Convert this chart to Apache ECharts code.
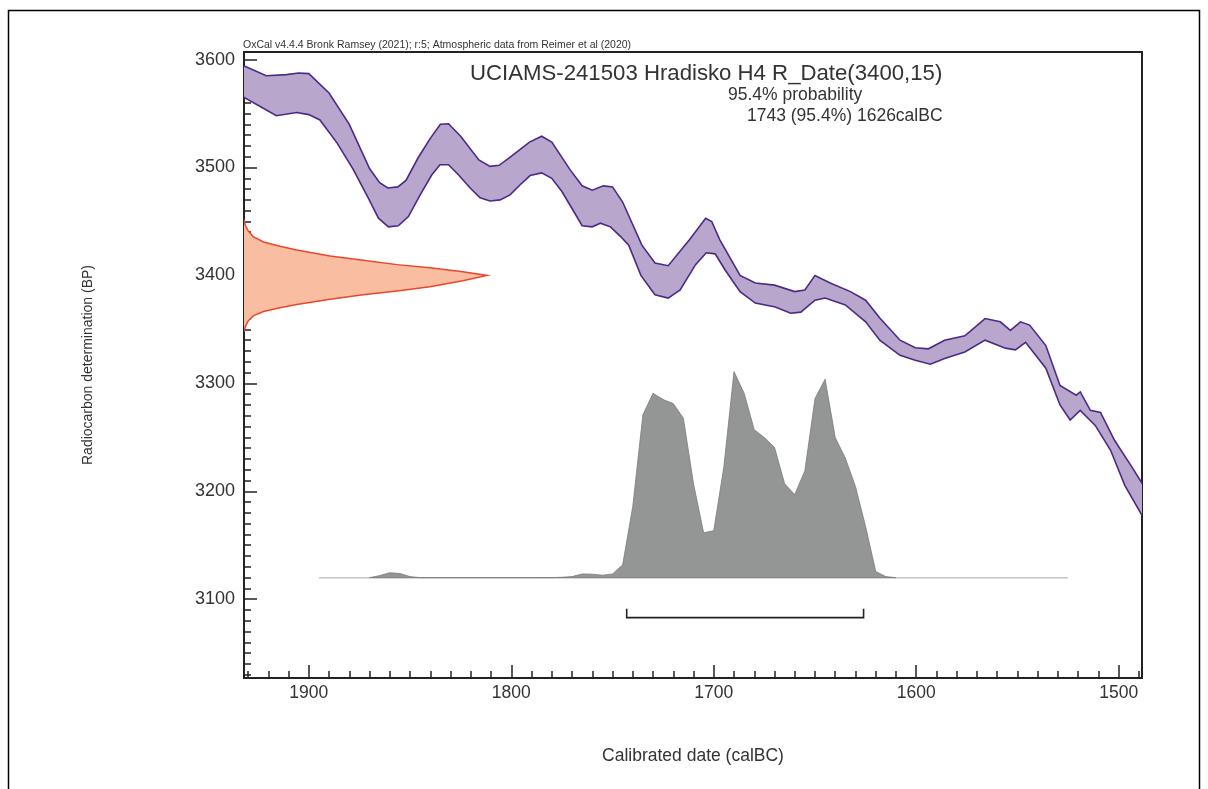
<!DOCTYPE html>
<html>
<head>
<meta charset="utf-8">
<script src="https://cdn.jsdelivr.net/npm/echarts@6/dist/echarts.min.js"></script>
<style>
  html, body { margin: 0; padding: 0; background: #ffffff; }
  #chart { width: 1208px; height: 789px; }
</style>
</head>
<body>
<div id="chart"></div>
<script>
// ---- Calibration curve (IntCal20 1-sigma envelope), calBC vs BP ----
const curveUpperYears = [1933, 1921, 1911, 1905, 1900, 1890, 1880, 1870, 1865, 1861, 1856, 1852, 1846, 1840, 1835, 1831, 1825, 1816, 1810.5, 1806, 1801, 1791, 1785, 1780, 1771, 1765, 1760, 1754.5, 1750, 1745, 1735.5, 1729, 1722.5, 1712, 1704, 1701, 1697, 1687, 1679.5, 1670, 1660, 1655, 1650, 1642.5, 1632.5, 1625, 1618, 1608, 1600.5, 1594, 1586, 1576, 1566, 1558.5, 1553.5, 1548.5, 1544, 1536, 1529, 1521, 1519, 1514, 1509, 1502, 1494, 1488];
const curveUpperBP = [3595, 3585, 3586, 3587.5, 3587, 3569, 3540, 3499, 3486, 3481, 3482, 3488, 3509, 3527, 3540, 3540.5, 3529, 3507, 3501, 3502, 3509, 3523.5, 3529, 3523.5, 3498, 3483, 3479, 3483, 3482, 3468, 3428, 3411.5, 3409, 3433, 3453, 3450, 3433, 3400, 3393, 3391, 3385, 3386.5, 3400, 3393, 3385, 3377, 3360.5, 3340, 3333, 3332, 3340, 3344, 3360, 3357, 3349, 3357, 3354, 3335, 3298, 3289, 3292, 3275, 3273, 3247, 3224, 3206];
const curveLowerYears = [1933, 1924, 1916, 1906, 1900, 1894.5, 1886, 1878, 1870.6, 1865.6, 1860.7, 1855.8, 1850.8, 1845, 1839.3, 1835.2, 1831, 1826, 1820.3, 1815.4, 1810.5, 1805.5, 1800.6, 1795.6, 1790.7, 1785, 1780, 1775, 1770, 1765, 1760, 1756, 1751, 1746, 1742, 1736, 1729, 1722.5, 1716.6, 1709, 1703.7, 1699.3, 1694.4, 1687, 1679.5, 1669.6, 1662, 1657, 1650, 1645, 1635, 1625, 1618, 1608, 1600.5, 1593, 1586, 1576, 1566, 1556, 1551, 1546, 1536, 1529, 1524, 1519, 1511.6, 1504, 1497, 1488];
const curveLowerBP = [3566, 3556.5, 3548, 3551, 3549, 3544, 3522.6, 3498, 3471.6, 3453, 3445, 3446, 3454.5, 3474.6, 3493, 3502.5, 3502.5, 3493, 3481, 3472, 3469, 3470, 3474.6, 3484, 3492.5, 3495, 3490, 3477.7, 3462, 3446, 3445, 3448.4, 3445, 3436, 3428, 3400, 3382, 3379, 3386.5, 3410, 3421, 3420, 3405, 3385, 3374.4, 3370.7, 3365, 3366, 3377, 3379, 3372.6, 3357, 3340, 3326, 3321.4, 3317.7, 3323, 3329, 3340, 3332.6, 3331, 3338, 3314, 3280, 3266, 3275, 3261, 3238, 3205.5, 3176];

// ---- Radiocarbon measurement R_Date(3400,15): relative density vs BP ----
const dateBP      = [3452, 3446, 3441, 3436, 3431, 3427, 3423.5, 3418, 3414, 3410, 3407, 3403.5, 3400, 3395, 3389.5, 3385.5, 3382, 3378, 3373, 3370, 3366.5, 3362.5, 3358, 3353, 3348];
const dateDensity = [0, 0.006, 0.018, 0.038, 0.08, 0.148, 0.217, 0.354, 0.49, 0.63, 0.765, 0.9, 1.0, 0.9, 0.765, 0.63, 0.49, 0.354, 0.217, 0.148, 0.08, 0.038, 0.018, 0.006, 0];

// ---- Calibrated probability distribution (relative, peak = 1) ----
const calYears = [1870, 1865, 1860, 1855, 1850, 1845, 1780, 1775, 1770, 1765, 1760, 1755, 1750, 1745, 1740, 1735, 1730, 1725, 1720, 1715, 1710, 1705, 1700, 1695, 1690, 1685, 1680, 1675, 1670, 1665, 1660, 1655, 1650, 1645, 1640, 1635, 1630, 1625, 1620, 1615, 1610];
const calProb  = [0, 0.01, 0.024, 0.02, 0.005, 0, 0, 0.002, 0.005, 0.018, 0.017, 0.012, 0.018, 0.062, 0.345, 0.79, 0.895, 0.864, 0.845, 0.774, 0.456, 0.218, 0.228, 0.539, 1.0, 0.895, 0.718, 0.68, 0.633, 0.456, 0.403, 0.519, 0.869, 0.963, 0.68, 0.58, 0.442, 0.248, 0.03, 0.005, 0];
const calSpan  = [1895, 1525];          // extent of the distribution baseline

// ---- 95.4% range (calBC) ----
const range954 = [1743, 1626];

// ---- Axis labels and text ----
const xAxisTitle = 'Calibrated date (calBC)';
const yAxisTitle = 'Radiocarbon determination (BP)';
const creditText = 'OxCal v4.4.4 Bronk Ramsey (2021); r:5; Atmospheric data from Reimer et al (2020)';
const sampleTitle = 'UCIAMS-241503 Hradisko H4 R_Date(3400,15)';
const probTitle = '95.4% probability';

const FONT = '"Liberation Sans", Arial, Helvetica, sans-serif';
const INK = '#222222';
const TXT = '#333333';

// visible window
const X_MIN = 1488.5, X_MAX = 1932;
const Y_MIN = 3027, Y_MAX = 3607;

function renderBand(params, api) {
  const upper = curveUpperYears.map((yr, i) => api.coord([yr, curveUpperBP[i]]));
  const lower = curveLowerYears.map((yr, i) => api.coord([yr, curveLowerBP[i]]));
  const poly = upper.concat(lower.slice().reverse());
  return {
    type: 'group',
    children: [
      { type: 'polygon', shape: { points: poly }, style: { fill: '#b9a6cd', stroke: null } },
      { type: 'polyline', shape: { points: upper }, style: { fill: null, stroke: '#4b2a87', lineWidth: 1.6 } },
      { type: 'polyline', shape: { points: lower }, style: { fill: null, stroke: '#4b2a87', lineWidth: 1.6 } }
    ]
  };
}

function renderDate(params, api) {
  const pts = dateBP.map((bp, i) => api.coord([dateDensity[i], bp]));
  return {
    type: 'group',
    children: [
      { type: 'polygon', shape: { points: pts }, style: { fill: '#f9bda2', stroke: null } },
      { type: 'polyline', shape: { points: pts }, style: { fill: null, stroke: '#e9472b', lineWidth: 1.5 } }
    ]
  };
}

function renderCal(params, api) {
  const base = [api.coord([calSpan[0], 0]), api.coord([calSpan[1], 0])];
  const pts = calYears.map((yr, i) => api.coord([yr, calProb[i]]));
  return {
    type: 'group',
    children: [
      { type: 'line', shape: { x1: base[0][0], y1: base[0][1], x2: base[1][0], y2: base[1][1] },
        style: { stroke: '#c6c6c6', lineWidth: 1.5 } },
      { type: 'polygon', shape: { points: pts }, style: { fill: '#949695', stroke: '#7a7c7b', lineWidth: 0.8 } }
    ]
  };
}

function renderRange(params, api) {
  const a = api.coord([range954[0], 0]);
  const b = api.coord([range954[1], 0]);
  const y = a[1] + 40, h = 9;
  return {
    type: 'polyline',
    shape: { points: [[a[0], y - h], [a[0], y], [b[0], y], [b[0], y - h]] },
    style: { fill: null, stroke: INK, lineWidth: 1.6 }
  };
}

const plainNumber = v => String(Math.round(v));

const chart = echarts.init(document.getElementById('chart'), null, { renderer: 'canvas' });

const tickLine = { color: INK, width: 1.5 };

chart.setOption({
  backgroundColor: '#ffffff',
  animation: false,
  textStyle: { fontFamily: FONT },
  title: [
    { text: creditText, left: 243, top: 40, padding: 0,
      textStyle: { fontSize: 10.5, fontWeight: 'normal', color: TXT, fontFamily: FONT } },
    { text: sampleTitle, left: 470, top: 63, padding: 0,
      textStyle: { fontSize: 22.2, fontWeight: 'normal', color: TXT, fontFamily: FONT } },
    { text: probTitle, left: 728, top: 86, padding: 0,
      textStyle: { fontSize: 17.5, fontWeight: 'normal', color: TXT, fontFamily: FONT } },
    { text: range954[0] + ' (95.4%) ' + range954[1] + 'calBC', left: 747, top: 107, padding: 0,
      textStyle: { fontSize: 17.5, fontWeight: 'normal', color: TXT, fontFamily: FONT } }
  ],
  graphic: [
    { type: 'rect', silent: true, shape: { x: 8.5, y: 10.5, width: 1191, height: 800 },
      style: { fill: null, stroke: '#000000', lineWidth: 1.5 }, z: 100 }
  ],
  grid: {
    left: 244, right: 66, top: 52, bottom: 111,
    containLabel: false, outerBoundsMode: 'none',
    show: true, borderColor: INK, borderWidth: 2, backgroundColor: 'transparent'
  },
  xAxis: [
    {
      type: 'value', inverse: true, min: X_MIN, max: X_MAX, position: 'bottom',
      splitNumber: 5, minInterval: 100, maxInterval: 100,
      axisLine: { show: true, onZero: false, lineStyle: { color: INK, width: 2 } },
      axisTick: { show: true, inside: true, length: 13, lineStyle: tickLine },
      axisLabel: { show: true, showMinLabel: false, showMaxLabel: false, formatter: plainNumber,
        fontSize: 17.5, color: TXT, margin: 6, fontFamily: FONT },
      splitLine: { show: false },
      name: xAxisTitle, nameLocation: 'middle', nameGap: 69,
      nameTextStyle: { fontSize: 17.5, color: TXT, fontFamily: FONT }
    },
    {
      type: 'value', inverse: true, min: X_MIN, max: X_MAX, position: 'bottom', offset: 0,
      splitNumber: 44, minInterval: 10, maxInterval: 10,
      axisLine: { show: false, onZero: false },
      axisTick: { show: true, inside: true, length: 7, lineStyle: tickLine },
      axisLabel: { show: false }, splitLine: { show: false }
    },
    { type: 'value', min: 0, max: 3.694, show: false, position: 'top' }
  ],
  yAxis: [
    {
      type: 'value', min: Y_MIN, max: Y_MAX, position: 'left',
      splitNumber: 6, minInterval: 100, maxInterval: 100,
      axisLine: { show: true, onZero: false, lineStyle: { color: INK, width: 2 } },
      axisTick: { show: true, inside: true, length: 13, lineStyle: tickLine },
      axisLabel: { show: true, showMinLabel: false, showMaxLabel: false, formatter: plainNumber,
        fontSize: 18, color: TXT, margin: 9, fontFamily: FONT },
      splitLine: { show: false },
      name: yAxisTitle, nameLocation: 'middle', nameGap: 149,
      nameTextStyle: { fontSize: 14, color: TXT, fontFamily: FONT }
    },
    {
      type: 'value', min: Y_MIN, max: Y_MAX, position: 'left', offset: 0,
      splitNumber: 58, minInterval: 10, maxInterval: 10,
      axisLine: { show: false, onZero: false },
      axisTick: { show: true, inside: true, length: 7, lineStyle: tickLine },
      axisLabel: { show: false }, splitLine: { show: false }
    },
    { type: 'value', min: -0.487, max: 2.551, show: false, position: 'right' }
  ],
  series: [
    { type: 'custom', name: 'IntCal20', xAxisIndex: 0, yAxisIndex: 0, data: [0], clip: true, silent: true, renderItem: renderBand },
    { type: 'custom', name: 'R_Date', xAxisIndex: 2, yAxisIndex: 0, data: [0], clip: true, silent: true, renderItem: renderDate },
    { type: 'custom', name: 'Calibrated', xAxisIndex: 0, yAxisIndex: 2, data: [0], clip: true, silent: true, renderItem: renderCal },
    { type: 'custom', name: '95.4%', xAxisIndex: 0, yAxisIndex: 2, data: [0], clip: false, silent: true, renderItem: renderRange }
  ]
});
</script>
</body>
</html>
